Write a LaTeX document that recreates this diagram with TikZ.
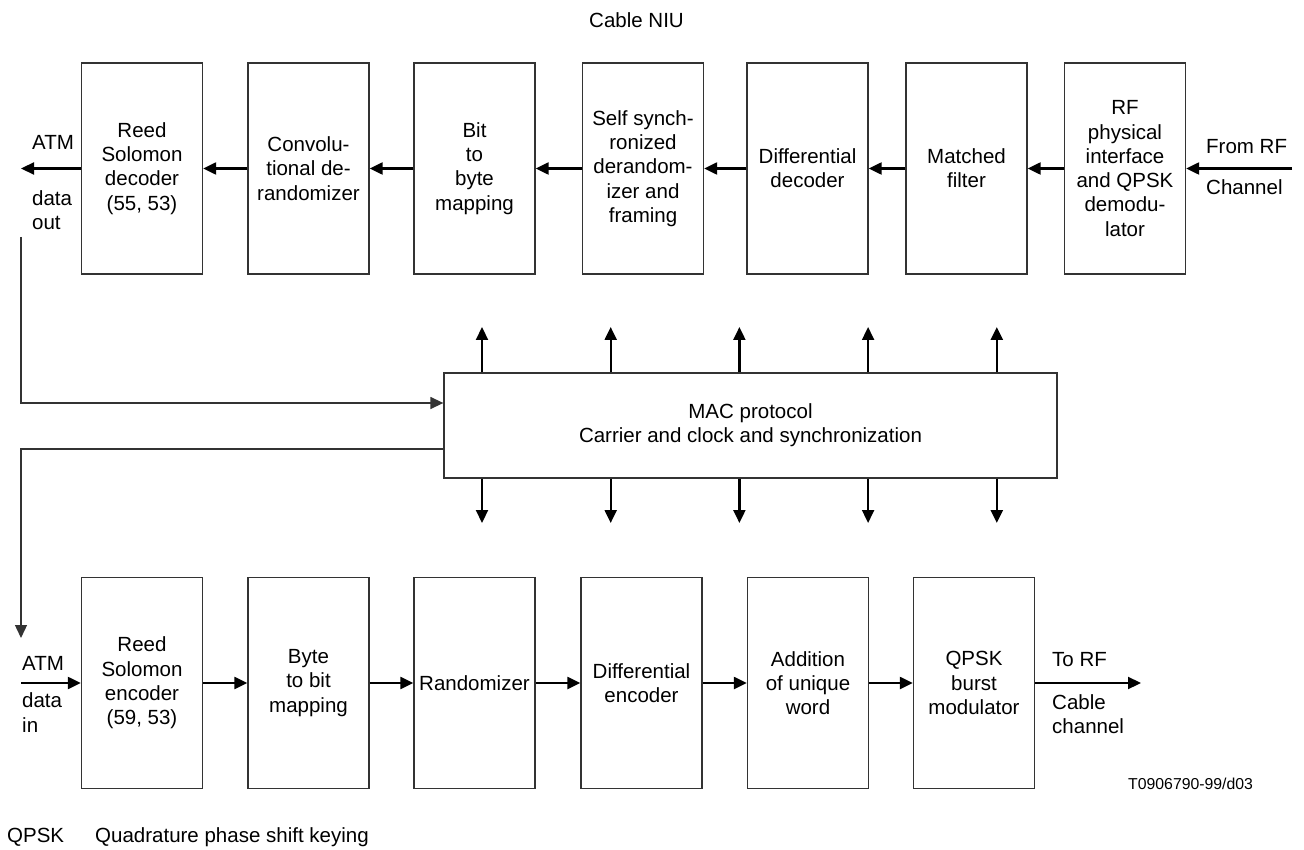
\documentclass[tikz,border=0pt]{standalone}
\usepackage{fontspec}
\setmainfont{Liberation Sans}
\usetikzlibrary{arrows.meta,calc}
\newcommand\mainfs{\fontsize{20.5}{24.3}\selectfont}
\begin{document}
\begin{tikzpicture}[x=1pt,y=-1pt,
  blk/.style={draw=black!80,line width=1.3pt,minimum width=121pt,minimum height=211pt,align=center,inner sep=0pt,font=\mainfs},
  arr/.style={line width=2.2pt,-{Triangle[length=13pt,width=12pt]}},
  tip/.style={-{Triangle[length=13pt,width=12pt]}},
  conn/.style={draw=black!80,line width=1.4pt},
  lbl/.style={inner sep=0pt,align=left,font=\mainfs},
]
\useasboundingbox (0,0) rectangle (1304,850);

% top row (receive)
\node[blk] (d1) at (142,168.5) {Reed\\Solomon\\decoder\\(55, 53)};
\node[blk] (d2) at (308.5,168.5) {Convolu-\\tional de-\\randomizer};
\node[blk] (d3) at (474.5,168.5) {Bit\\to\\byte\\mapping};
\node[blk] (d4) at (643,168.5) {Self synch-\\ronized\\derandom-\\izer and\\framing};
\node[blk] (d5) at (807.5,168.5) {Differential\\decoder};
\node[blk] (d6) at (966.5,168.5) {Matched\\filter};
\node[blk] (d7) at (1125,168.5) {RF\\physical\\interface\\and QPSK\\demodu-\\lator};

% bottom row (transmit)
\node[blk] (e1) at (142,683) {Reed\\Solomon\\encoder\\(59, 53)};
\node[blk] (e2) at (308.5,683) {Byte\\to bit\\mapping};
\node[blk] (e3) at (474.5,683) {Randomizer};
\node[blk] (e4) at (641.5,683) {Differential\\encoder};
\node[blk] (e5) at (808,683) {Addition\\of unique\\word};
\node[blk] (e6) at (974,683) {QPSK\\burst\\modulator};

% MAC
\node[draw=black!80,line width=1.3pt,minimum width=613pt,minimum height=105pt,align=center,inner sep=0pt,font=\mainfs] (mac) at (750.5,425.5) {MAC protocol\\Carrier and clock and synchronization};

% top chain arrows
\draw[arr] (d2.west) -- (d1.east);
\draw[arr] (d3.west) -- (d2.east);
\draw[arr] (d4.west) -- (d3.east);
\draw[arr] (d5.west) -- (d4.east);
\draw[arr] (d6.west) -- (d5.east);
\draw[arr] (d7.west) -- (d6.east);
\coordinate (rfin) at (1292,168.5);
\draw[arr] (rfin) -- (d7.east);
\coordinate (atmout) at (21,168.5);
\draw[arr] (d1.west) -- (atmout);

% bottom chain arrows
\coordinate (atmin) at (21,683);
\draw[arr] (atmin) -- (e1.west);
\draw[arr] (e1.east) -- (e2.west);
\draw[arr] (e2.east) -- (e3.west);
\draw[arr] (e3.east) -- (e4.west);
\draw[arr] (e4.east) -- (e5.west);
\draw[arr] (e5.east) -- (e6.west);
\coordinate (rfout) at (1141,683);
\draw[arr] (e6.east) -- (rfout);

% loop connectors
\coordinate (lo) at (21,237);
\draw[conn,tip] (lo) |- ([yshift=22.5pt]mac.west);
\coordinate (ain) at (21,638);
\draw[conn,tip] ([yshift=-23.5pt]mac.west) -| (ain);

% MAC control arrows
\foreach \x [count=\i] in {482,610.7,739.4,868.1,996.8} {
  \coordinate (u\i) at (\x,327);
  \coordinate (w\i) at (\x,523);
  \draw[arr] (u\i |- mac.north) -- (u\i);
  \draw[arr] (w\i |- mac.south) -- (w\i);
}

% labels
\node[lbl] (title) at (636.5,20) {Cable NIU};
\node[lbl,anchor=west] (atmo) at (32,142) {ATM};
\node[lbl,anchor=west] (dout) at (32,210) {data\\out};
\node[lbl,anchor=west] (frf) at (1206,147) {From RF};
\node[lbl,anchor=west] (chn) at (1206,187) {Channel};
\node[lbl,anchor=west] (atmi) at (22,663) {ATM};
\node[lbl,anchor=west] (din) at (22,712.5) {data\\in};
\node[lbl,anchor=west] (torf) at (1052,660) {To RF};
\node[lbl,anchor=west] (cch) at (1052,714.5) {Cable\\channel};
\node[lbl,anchor=west,font=\fontsize{15.8}{18}\selectfont] (ref) at (1128,784) {T0906790-99/d03};
\node[lbl,anchor=west] (ab) at (7,837) {QPSK};
\node[lbl,anchor=west] (abx) at (95,837) {Quadrature phase shift keying};
\end{tikzpicture}
\end{document}
